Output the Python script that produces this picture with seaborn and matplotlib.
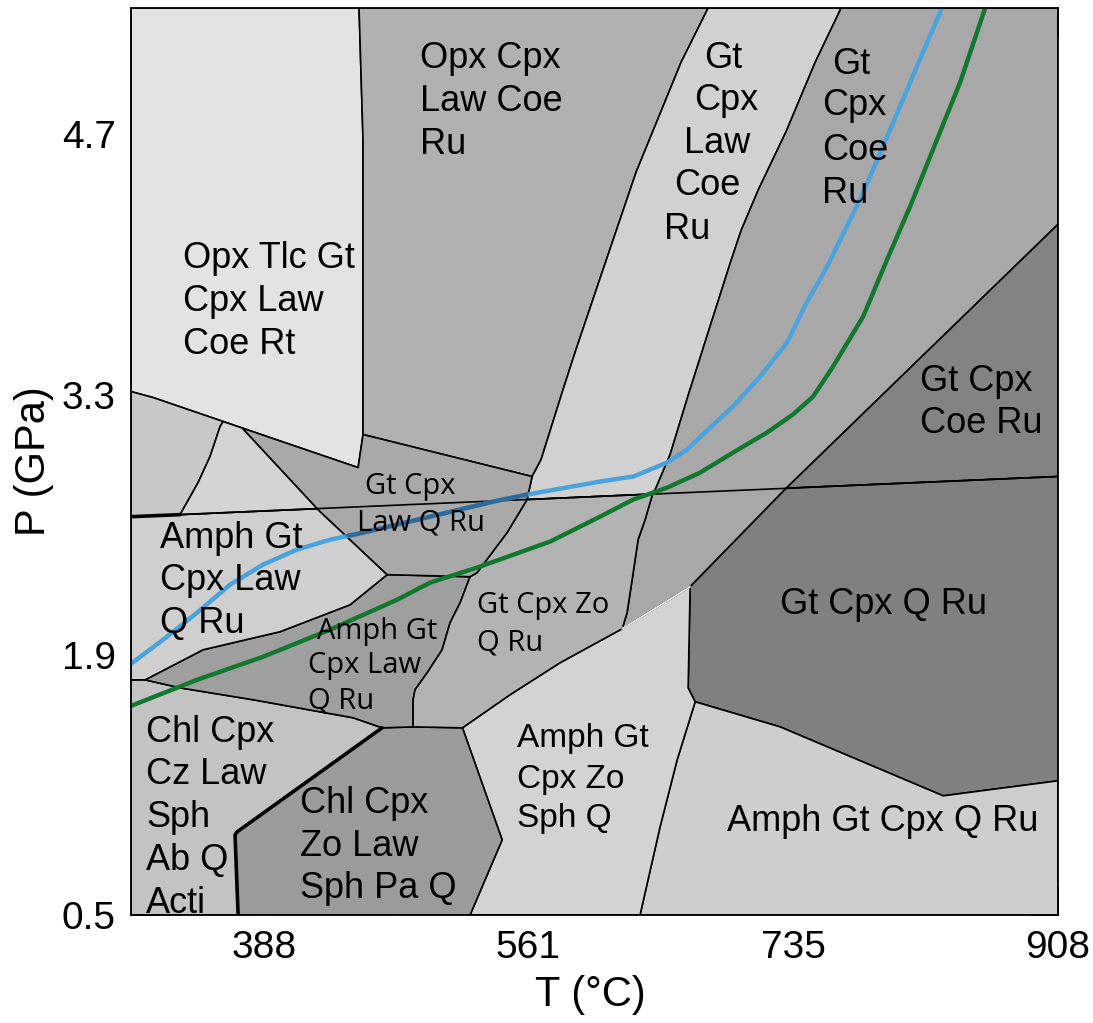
import matplotlib
matplotlib.use("Agg")
import matplotlib.pyplot as plt
from matplotlib.patches import Polygon
import seaborn as sns

# axes: temperature (deg C) and pressure (GPa)
t_range = (301, 908)
p_range = (0.5, 5.38)
t_ticks = [388, 561, 735, 908]
t_minor = [475, 649, 823]
p_ticks = [0.5, 1.9, 3.3, 4.7]
p_minor = [1.2, 2.6, 4.0]

# stability fields, (T, P) vertices
field_a = [(301, 5.38), (450.3, 5.38), (452.9, 4.67), (452.9, 3.65), (452.9, 3.085),
           (449.7, 2.907), (361.3, 3.155), (315.4, 3.284), (301, 3.316)]
field_b = [(450.3, 5.38), (678.9, 5.38), (661.2, 5.088), (631.7, 4.496), (610.8, 3.990),
           (592.4, 3.543), (583.9, 3.327), (569.5, 2.950), (563.6, 2.859), (452.9, 3.085),
           (452.9, 3.65), (452.9, 4.67)]
field_c = [(678.9, 5.38), (766.0, 5.38), (749.0, 5.088), (730.0, 4.716), (711.6, 4.399),
           (700.5, 4.183), (693.3, 4.006), (679.5, 3.650), (665.8, 3.295), (654.0, 2.977),
           (644.8, 2.799), (642.5, 2.765), (560.3, 2.735), (563.6, 2.859), (569.5, 2.950),
           (583.9, 3.327), (592.4, 3.543), (610.8, 3.990), (631.7, 4.496), (661.2, 5.088)]
field_d = [(766.0, 5.38), (908, 5.38), (908, 4.216), (730.0, 2.796), (667.1, 2.266),
           (622.6, 2.04), (625.8, 2.126), (629.8, 2.342), (633.0, 2.519), (637.6, 2.627),
           (642.5, 2.765), (644.8, 2.799), (654.0, 2.977), (665.8, 3.295), (679.5, 3.650),
           (693.3, 4.006), (700.5, 4.183), (711.6, 4.399), (730.0, 4.716), (749.0, 5.088)]
field_e = [(730.0, 2.796), (908, 4.216), (908, 2.859)]
field_f = [(730.0, 2.796), (908, 2.859), (908, 1.222), (832.8, 1.141), (726.0, 1.512),
           (670.4, 1.647), (665.8, 1.722), (667.1, 2.266)]
field_g = [(670.4, 1.647), (726.0, 1.512), (832.8, 1.141), (908, 1.222), (908, 0.5),
           (634.3, 0.5), (647.4, 0.974), (658.6, 1.335)]
field_h = [(518.0, 1.507), (549.2, 1.685), (581.9, 1.857), (622.6, 2.04), (667.1, 2.266),
           (665.8, 1.722), (670.4, 1.647), (658.6, 1.335), (647.4, 0.974), (634.3, 0.5),
           (523.0, 0.5), (544.0, 0.904)]
field_i = [(465.4, 1.507), (485.7, 1.512), (518.0, 1.507), (544.0, 0.904), (523.0, 0.5),
           (371.1, 0.5), (369.1, 0.931), (370.4, 0.947)]
field_j = [(301, 1.765), (310.2, 1.765), (333.1, 1.722), (380.9, 1.658), (446.4, 1.561),
           (465.4, 1.507), (370.4, 0.947), (369.1, 0.931), (371.1, 0.5), (301, 0.5)]
field_k = [(310.2, 1.765), (348.2, 1.927), (398.6, 2.024), (444.4, 2.169), (468.7, 2.331),
           (523.0, 2.320), (516.5, 2.180), (509.9, 2.072), (504.7, 1.927), (494.9, 1.803),
           (487.0, 1.712), (485.7, 1.658), (485.7, 1.512), (465.4, 1.507), (446.4, 1.561),
           (380.9, 1.658), (333.1, 1.722)]
field_l = [(560.3, 2.735), (642.5, 2.765), (637.6, 2.627), (633.0, 2.519), (629.8, 2.342),
           (625.8, 2.126), (622.6, 2.04), (581.9, 1.857), (549.2, 1.685), (518.0, 1.507),
           (485.7, 1.512), (485.7, 1.658), (487.0, 1.712), (494.9, 1.803), (504.7, 1.927),
           (509.9, 2.072), (516.5, 2.180), (523.0, 2.320), (527.6, 2.342), (547.2, 2.557)]
field_m = [(301, 2.643), (422.8, 2.686), (468.7, 2.331), (444.4, 2.169), (398.6, 2.024),
           (348.2, 1.927), (310.2, 1.765), (301, 1.765)]
field_n = [(373.7, 3.12), (449.7, 2.907), (452.9, 3.085), (563.6, 2.859), (560.3, 2.735),
           (547.2, 2.557), (527.6, 2.342), (523.0, 2.320), (468.7, 2.331), (422.8, 2.686)]
field_p1 = [(301, 3.316), (315.4, 3.284), (361.3, 3.155), (359.3, 3.128), (352.7, 2.966),
            (344.9, 2.826), (333.1, 2.654), (301, 2.643)]
field_p2 = [(361.3, 3.155), (373.7, 3.12), (422.8, 2.686), (333.1, 2.654), (344.9, 2.826),
            (352.7, 2.966), (359.3, 3.128)]

# reaction line crossing the whole diagram and thick boundaries
cross_t = [301, 908]
cross_p = [2.643, 2.859]
thick_t = [301, 333.1]
thick_p = [2.643, 2.654]
chl_t = [465.4, 370.4, 369.1, 371.1]
chl_p = [1.507, 0.947, 0.931, 0.5]
faint_t = [622.6, 667.1]
faint_p = [2.04, 2.266]

# geotherms
blue_t = [301.0, 322.0, 344.2, 365.8, 387.4, 409.7, 431.3, 452.9, 496.8, 538.1, 560.3,
          608.1, 629.8, 652.0, 665.1, 680.2, 695.2, 712.9, 730.6, 742.4, 756.8, 778.4,
          793.5, 811.2, 832.0]
blue_p = [1.852, 1.981, 2.126, 2.277, 2.385, 2.466, 2.519, 2.557, 2.643, 2.724, 2.762,
          2.832, 2.859, 2.934, 3.004, 3.122, 3.236, 3.397, 3.580, 3.779, 3.989, 4.350,
          4.636, 4.980, 5.38]
green_t = [301.0, 344.2, 387.4, 431.3, 475.2, 496.8, 527.6, 575.4, 608.1, 629.8, 652.0,
           673.6, 695.2, 717.5, 734.5, 747.6, 760.7, 780.4, 796.1, 811.2, 828.8, 843.9, 860.3]
green_p = [1.625, 1.765, 1.889, 2.035, 2.196, 2.288, 2.369, 2.509, 2.643, 2.735, 2.799,
           2.880, 2.988, 3.096, 3.193, 3.289, 3.451, 3.720, 4.027, 4.313, 4.673, 4.980, 5.38]

# field labels (one entry per text line)
labels_big = [
    ("Opx Tlc Gt", 335.1, 4.054), ("Cpx Law", 335.1, 3.823), ("Coe Rt", 335.1, 3.591),
    ("Opx Cpx", 490.3, 5.131), ("Law Coe", 490.3, 4.900), ("Ru", 490.3, 4.668),
    ("Gt", 676.3, 5.131), ("Cpx", 669.7, 4.905), ("Law", 663.2, 4.673),
    ("Coe", 656.6, 4.447), ("Ru", 650.1, 4.210),
    ("Gt", 760.1, 5.099), ("Cpx", 753.5, 4.878), ("Coe", 753.5, 4.636), ("Ru", 753.5, 4.404),
    ("Gt Cpx", 817.7, 3.392), ("Coe Ru", 817.7, 3.166),
    ("Gt Cpx Q Ru", 726.0, 2.191),
    ("Amph Gt Cpx Q Ru", 691.3, 1.022),
    ("Chl Cpx", 411.7, 1.119), ("Zo Law", 411.7, 0.888), ("Sph Pa Q", 411.7, 0.662),
    ("Chl Cpx", 310.8, 1.502), ("Cz Law", 310.8, 1.275), ("Sph", 310.8, 1.044),
    ("Ab Q", 310.8, 0.812), ("Acti", 310.8, 0.581),
    ("Amph Gt", 320.0, 2.546), ("Cpx Law", 320.0, 2.320), ("Q Ru", 320.0, 2.089),
]
labels_mid = [
    ("Amph Gt", 553.8, 1.469), ("Cpx Zo", 553.8, 1.249), ("Sph Q", 553.8, 1.039),
]
labels_small = [
    ("Gt Cpx", 454.2, 2.826), ("Law Q Ru", 449.0, 2.627),
    ("Amph Gt", 422.8, 2.045), ("Cpx Law", 416.9, 1.862), ("Q Ru", 416.9, 1.669),
    ("Gt Cpx Zo", 527.6, 2.186), ("Q Ru", 527.6, 1.981),
]

sns.set_theme(style="white")
plt.rcParams["font.family"] = ["Liberation Sans", "DejaVu Sans"]
plt.rcParams["text.color"] = "black"
plt.rcParams["axes.labelcolor"] = "black"

fig = plt.figure(figsize=(10.93, 10.23), dpi=100)
ax = fig.add_axes([0.1199, 0.1056, 0.8481, 0.8866])

fields = [
    (field_a, "#e3e3e3"), (field_b, "#b1b1b1"), (field_c, "#d1d1d1"), (field_d, "#a8a8a8"),
    (field_e, "#838383"), (field_f, "#808080"), (field_g, "#cecece"), (field_h, "#d3d3d3"),
    (field_i, "#9b9b9b"), (field_j, "#c3c3c3"), (field_k, "#9f9f9f"), (field_l, "#b3b3b3"),
    (field_m, "#cfcfcf"), (field_n, "#a9a9a9"), (field_p1, "#c8c8c8"), (field_p2, "#d4d4d4"),
]
patches = []
for verts, shade in fields:
    patch = Polygon(verts, closed=True, facecolor=shade, edgecolor="black",
                    linewidth=1.2, joinstyle="round", zorder=1)
    ax.add_patch(patch)
    patches.append(patch)
n_patch = patches[13]

ax.plot(faint_t, faint_p, color="#e6e6e6", lw=1.4, zorder=2)
ax.plot(cross_t, cross_p, color="black", lw=1.2, zorder=2)
ax.plot(thick_t, thick_p, color="black", lw=2.6, zorder=2)
ax.plot(chl_t, chl_p, color="black", lw=2.6, zorder=2, solid_joinstyle="round")

sns.lineplot(x=blue_t, y=blue_p, sort=False, estimator=None, color="#4ba3de",
             lw=3.2, ax=ax, zorder=3)
# the blue geotherm shows darker where it runs under the Gt Cpx Law Q Ru field
sns.lineplot(x=blue_t, y=blue_p, sort=False, estimator=None, color="#2f6a98",
             lw=3.2, ax=ax, zorder=3)
ax.lines[-1].set_clip_path(n_patch)
sns.lineplot(x=green_t, y=green_p, sort=False, estimator=None, color="#13782f",
             lw=3.2, ax=ax, zorder=3)

for txt, t, p in labels_big:
    ax.text(t, p, txt, fontsize=26, color="black", ha="left", va="center_baseline", zorder=5)
for txt, t, p in labels_mid:
    ax.text(t, p, txt, fontsize=24, color="black", ha="left", va="center_baseline", zorder=5)
for txt, t, p in labels_small:
    ax.text(t, p, txt, fontsize=21, color="black", ha="left", va="center_baseline", zorder=5,
            family=["Open Sans", "DejaVu Sans"])

ax.set_xlim(t_range)
ax.set_ylim(p_range)
ax.set_xticks(t_ticks)
ax.set_xticks(t_minor, minor=True)
ax.set_yticks(p_ticks)
ax.set_yticks(p_minor, minor=True)
ax.tick_params(which="both", direction="in", top=True, right=True, bottom=True,
               left=True, colors="black", width=1.1)
ax.tick_params(which="major", length=20, labelsize=28, pad=11)
ax.tick_params(which="minor", length=13)

for s in ax.spines.values():
    s.set_color("black")
    s.set_linewidth(1.3)
    s.set_zorder(6)

ax.set_xlabel("T (°C)", fontsize=30)
ax.set_ylabel("P (GPa)", fontsize=30)
ax.xaxis.set_label_coords(0.495, -0.066)
ax.yaxis.set_label_coords(-0.083, 0.5)

fig.savefig("out.png", dpi=100, facecolor="white")
